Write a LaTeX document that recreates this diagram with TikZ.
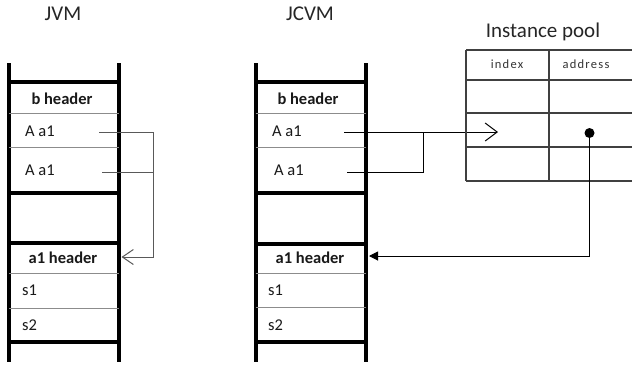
\documentclass[tikz,border=0pt]{standalone}
\usepackage{fontspec}
\setmainfont{Carlito}
\newfontfamily\spacedfont[LetterSpace=10]{Carlito}
\usetikzlibrary{arrows.meta}
\begin{document}
\begin{tikzpicture}[x=1pt,y=-1pt,
  title/.style={font=\fontsize{21}{24}\selectfont, text=black!85},
  cell/.style={font=\fontsize{16.5}{20}\selectfont, text=black!90, anchor=west, inner sep=0pt},
  hdr/.style={font=\fontsize{16.5}{20}\selectfont\bfseries, text=black!90, inner sep=0pt},
  col/.style={font=\fontsize{12.5}{15}\selectfont\spacedfont, text=black!80, inner sep=0pt},
  rail/.style={line width=3.6pt, black},
  thickrow/.style={line width=4pt, black},
  thinrow/.style={line width=1pt, black!45},
  grid/.style={line width=1.3pt, black!75},
  conn/.style={line width=1pt, black!65},
  connb/.style={line width=1pt, black}]
\useasboundingbox (0,0) rectangle (632,365);
\fill[white] (0,0) rectangle (632,365);

% ---------- JVM ----------
\node[title] (jvm) at (63,14) {JVM};
\draw[rail] (9,63) -- (9,362);
\draw[rail] (119,63) -- (119,362);
\foreach \y in {82,193,243,342} \draw[thickrow] (9,\y) -- (119,\y);
\foreach \y in {113,147,273,308} \draw[thinrow] (9,\y) -- (119,\y);
\node[hdr] (jb) at (62,99) {b header};
\node[cell] (ja1) at (25,131) {A a1};
\node[cell] (ja2) at (25,170) {A a1};
\node[hdr] (jh) at (63,258) {a1 header};
\node[cell] (js1) at (22,290) {s1};
\node[cell] (js2) at (22,325) {s2};
\coordinate (jp1) at (99,132);
\coordinate (jp2) at (102,172);
\coordinate (jbend) at (153,132);
\coordinate (jtgt) at (121.5,257);
\draw[conn, -{Straight Barb[length=11pt,width=15pt,line width=1pt]}] (jp1) -- (jbend) |- (jtgt);
\draw[conn] (jp2) -- (jbend |- jp2);

% ---------- JCVM ----------
\node[title] (jcvm) at (310,14) {JCVM};
\draw[rail] (256,63) -- (256,362);
\draw[rail] (366,63) -- (366,362);
\foreach \y in {82,193,244,342} \draw[thickrow] (256,\y) -- (366,\y);
\foreach \y in {113,147,273,307} \draw[thinrow] (256,\y) -- (366,\y);
\node[hdr] (cb) at (308,99) {b header};
\node[cell] (ca1) at (272,131) {A a1};
\node[cell] (ca2) at (274,170) {A a1};
\node[hdr] (ch) at (310,258) {a1 header};
\node[cell] (cs1) at (268,290) {s1};
\node[cell] (cs2) at (268,325) {s2};
\coordinate (cp1) at (344,132);
\coordinate (cp2) at (347,172);
\coordinate (cjoin) at (423,132);
\coordinate (idx) at (498,132);
\draw[connb, -{Straight Barb[length=12pt,width=18pt,line width=1pt]}] (cp1) -- (idx);
\draw[connb] (cp2) -- (cjoin |- cp2) -- (cjoin);

% ---------- Instance pool ----------
\node[title] (pool) at (543,32) {Instance pool};
\foreach \y in {50,80,113,147,181} \draw[grid] (466,\y) -- (632,\y);
\draw[grid] (466,50) -- (466,181);
\draw[grid] (549,50) -- (549,181);
\node[col] (index) at (507,64) {index};
\node[col] (address) at (586,64) {address};
\coordinate (dot) at (589.5,133);
\coordinate (ctgt) at (369,256);
\fill[black] (dot) circle[radius=5pt];
\draw[connb, -{Triangle[length=9pt,width=9pt]}] (dot) |- (ctgt);
\end{tikzpicture}
\end{document}
